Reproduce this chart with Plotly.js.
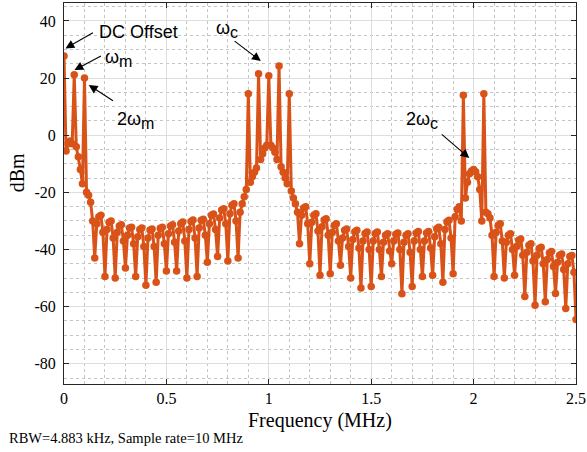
<!DOCTYPE html>
<html>
<head>
<meta charset="utf-8">
<script src="https://cdn.plot.ly/plotly-3.0.1.min.js"></script>
<style>html,body{margin:0;padding:0;background:#fff;}#chart{width:587px;height:452px;}</style>
</head>
<body>
<div id="chart"></div>
<script>
// Spectrum values (dBm), one per 0.01 MHz from 0 to 2.5 MHz
const binStepMHz = 0.01;
const powerDBm = [
  27.7, -5.5, -3, -2, -3, 21.2, -4, -7.5, -12, -17,
  20, -20, -21, -23.5, -30, -43, -31, -28.5, -28, -34,
  -49.5, -33, -30.5, -30, -36, -50, -34, -31.8, -31.3, -37,
  -46.5, -35, -32.5, -32.2, -38, -49.5, -35.5, -33, -32.5, -39,
  -52.5, -36, -33.2, -32.8, -39, -51.5, -35, -32.6, -32.2, -38,
  -47.5, -34.5, -31.8, -31.3, -37.5, -47.5, -33.5, -31, -30.4, -37,
  -50, -33, -30.2, -29.7, -36, -49.5, -32.5, -29.8, -29.4, -35,
  -44.5, -31, -28, -27.6, -33, -42.5, -29, -26.2, -25.7, -31,
  -44, -27.5, -24.5, -24, -30, -43, -27, -24, -21.5, -19,
  14.5, -16.5, -14.5, -13, -11.5, 21.5, -8.5, -6.5, -4.5, -3.5,
  20.8, -3.5, -4.5, -6, -8.5, 24.2, -11, -13, -15, -17,
  14.5, -19.5, -22, -24, -27, -38, -28, -25.5, -25, -31,
  -45, -30.5, -28, -27.5, -33.5, -49, -32, -29.7, -29.2, -35,
  -48.5, -34, -31.5, -31, -37, -45.5, -36, -33.3, -32.8, -39,
  -50, -36.5, -33.8, -33.3, -39.5, -53.5, -37, -34.4, -33.9, -40,
  -53, -37, -34.4, -33.9, -40, -49.5, -37.5, -35, -34.5, -40.5,
  -45, -37, -34.7, -34.2, -40, -55.5, -37.5, -35, -34.5, -41,
  -53, -37, -34.2, -33.7, -40, -49.5, -37, -34.2, -33.7, -39.5,
  -49, -35.5, -32.7, -32.2, -38, -51.5, -33, -30.3, -29.8, -36,
  -48.5, -28.5, -26, -25, -30, 14, -22, -16.5, -13.5, -12.5,
  -12, -12.8, -14.5, -19, -30, 14.5, -27, -27.5, -29, -35,
  -49.5, -34, -31.5, -31, -37, -50, -37.5, -35, -34.5, -40,
  -49, -39, -36.8, -36.3, -42, -56.5, -41, -38.5, -38, -44,
  -59.5, -42, -39.7, -39.2, -45, -58.3, -43.5, -41.2, -40.7, -46,
  -55.4, -44.5, -42, -41.6, -47, -60.7, -45, -42.5, -42.1, -48,
  -64.5
];
const freqMHz = powerDBm.map((_, i) => +(i * binStepMHz).toFixed(2));

const xTickVals = [0, 0.5, 1, 1.5, 2, 2.5];
const xTickText = ['0', '0.5', '1', '1.5', '2', '2.5'];
const yTickVals = [-80, -60, -40, -20, 0, 20, 40];
const yTickText = ['-80', '-60', '-40', '-20', '0', '20', '40'];

const subStyle = '<span style="font-size:16px">';
const labelTexts = [
  'DC Offset',
  '\u03c9<sub>' + subStyle + 'm</span></sub>',
  '2\u03c9<sub>' + subStyle + 'm</span></sub>',
  '\u03c9<sub>' + subStyle + 'c</span></sub>',
  '2\u03c9<sub>' + subStyle + 'c</span></sub>'
];
const labelPos = [[0.159, 36.0], [0.188, 27.0], [0.247, 5.0], [0.732, 37.0], [1.661, 5.3]];
const arrowHeads = [[0.007, 30.4], [0.051, 22.8], [0.121, 17.6], [0.961, 26.0], [1.979, -8.0]];
const arrowTails = [[29, -16.6], [28, -15], [25.7, 16.7], [-27.7, -21], [-29, -25]];

const orange = '#D95319';
const serif = '"Liberation Serif", "Times New Roman", Times, serif';
const sans = '"Liberation Sans", Arial, Helvetica, sans-serif';

const trace = {
  x: freqMHz, y: powerDBm, type: 'scatter', mode: 'lines+markers',
  line: {color: orange, width: 3},
  marker: {color: orange, size: 7.5},
  hoverinfo: 'skip'
};

const annotations = [];
arrowHeads.forEach((h, i) => {
  annotations.push({
    x: h[0], y: h[1], xref: 'x', yref: 'y', ax: arrowTails[i][0], ay: arrowTails[i][1],
    text: '', showarrow: true, arrowhead: 2, arrowsize: 1.6, arrowwidth: 1.1, arrowcolor: '#000'
  });
});
labelTexts.forEach((t, i) => {
  annotations.push({
    x: labelPos[i][0], y: labelPos[i][1], xref: 'x', yref: 'y', text: t, showarrow: false,
    xanchor: 'left', yanchor: 'middle', font: {family: sans, size: 18, color: '#000'}
  });
});
annotations.push({x: 0.5, y: -0.097, xref: 'paper', yref: 'paper', text: 'Frequency (MHz)', showarrow: false,
  xanchor: 'center', yanchor: 'middle', font: {family: serif, size: 20, color: '#000'}});
annotations.push({x: -0.091, y: 0.554, xref: 'paper', yref: 'paper', text: 'dBm', textangle: -90, showarrow: false,
  xanchor: 'center', yanchor: 'middle', font: {family: serif, size: 20, color: '#000'}});
annotations.push({x: -0.1106, y: -0.1417, xref: 'paper', yref: 'paper', text: 'RBW=4.883 kHz, Sample rate=10 MHz', showarrow: false,
  xanchor: 'left', yanchor: 'middle', font: {family: serif, size: 14.5, color: '#000'}});

const axisCommon = {
  ticks: 'inside', ticklen: 5, tickwidth: 1, tickcolor: '#262626',
  showline: true, linecolor: '#262626', linewidth: 1, mirror: 'ticks',
  showgrid: true, gridcolor: '#dedede', gridwidth: 1, zeroline: false,
  tickfont: {family: serif, size: 16, color: '#000'}, tickmode: 'array', fixedrange: true
};

const layout = {
  width: 587, height: 452,
  margin: {l: 64, r: 11, t: 3, b: 68},
  paper_bgcolor: '#fff', plot_bgcolor: '#fff',
  font: {family: serif},
  showlegend: false,
  xaxis: Object.assign({}, axisCommon, {
    range: [0, 2.5], tickvals: xTickVals, ticktext: xTickText,
    minor: {tickmode: 'linear', tick0: 0, dtick: 0.1, showgrid: true, gridcolor: '#c4c4c4', griddash: 'dot', gridwidth: 1, ticks: ''}
  }),
  yaxis: Object.assign({}, axisCommon, {
    range: [-87.1, 46.3], tickvals: yTickVals, ticktext: yTickText, ticklabelstandoff: 4,
    minor: {tickmode: 'linear', tick0: 0, dtick: 5, showgrid: true, gridcolor: '#c4c4c4', griddash: 'dot', gridwidth: 1, ticks: ''}
  }),
  annotations: annotations
};

Plotly.newPlot('chart', [trace], layout, {displayModeBar: false, staticPlot: true});
</script>
</body>
</html>
